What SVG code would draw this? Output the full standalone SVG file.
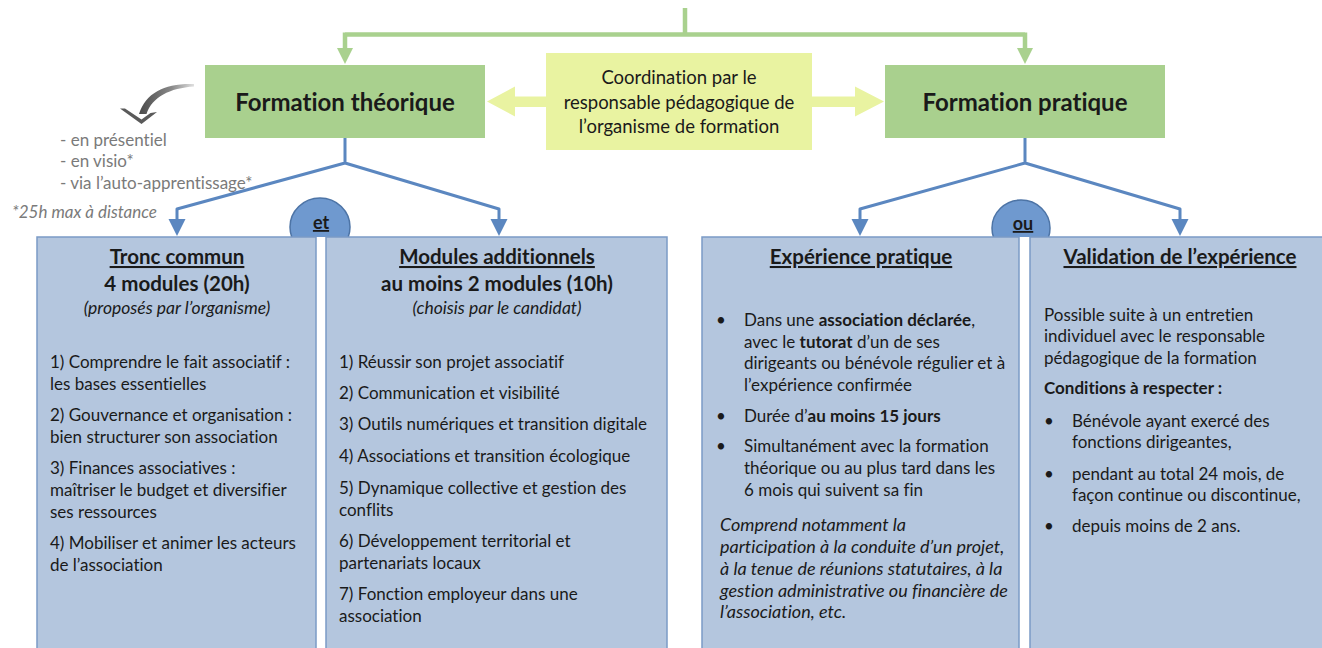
<svg xmlns="http://www.w3.org/2000/svg" width="1322" height="648" viewBox="0 0 1322 648">
<style>
text{font-family:Lato,"Open Sans","Liberation Sans",sans-serif;fill:#1a1a1a;font-variant-ligatures:no-common-ligatures}
.top{fill:#a9d08e}
.coord{fill:#e9f3a1}
.gline{fill:none;stroke:#a9d18e;stroke-width:4.5}
.ghead{fill:#a9d18e}
.bline{fill:none;stroke:#5b87c0;stroke-width:3;stroke-linejoin:round}
.bhead{fill:#5b87c0}
.panel{fill:#b4c6de;stroke:#7b9bc6;stroke-width:1.5}
.circ{fill:#6f99cf;stroke:#4d74a6;stroke-width:1.5}
.title{font-size:24px;font-weight:bold;text-anchor:middle}
.ct{font-size:18.5px;text-anchor:middle}
.hd{font-size:20.5px;font-weight:bold;text-anchor:middle}
.hu{text-decoration:underline}
.sub{font-size:17.5px;font-style:italic;text-anchor:middle}
.bd{font-size:17px}
.it{font-size:18px;font-style:italic}
.note{font-size:17px;fill:#7a7a7a}
.b{font-weight:bold}
.cl{font-size:18px;font-weight:bold;text-anchor:middle;text-decoration:underline}
</style>
<defs>
<clipPath id="abovebox"><rect x="0" y="0" width="1322" height="237"/></clipPath>
<linearGradient id="gg" x1="0" y1="0" x2="1" y2="0">
<stop offset="0" stop-color="#4a4a4a"/>
<stop offset="0.6" stop-color="#8a8a8a"/>
<stop offset="1" stop-color="#e0e0e0"/>
</linearGradient>
</defs>

<g id="connectors">
<path class="gline" d="M685,8 V34.5 M345,34.5 H1025 M345,32.5 V50 M1025,32.5 V50"/>
<polygon class="ghead" points="337,48 353,48 345,64"/>
<polygon class="ghead" points="1017,48 1033,48 1025,64"/>
<polygon class="coord" points="546,96.5 515,96.5 515,86.5 487,101.5 515,116.5 515,107 546,107"/>
<polygon class="coord" points="812,96.5 855,96.5 855,86.5 884,101.5 855,116.5 855,107 812,107"/>
<path class="bline" d="M345,138 V163 L177,209 V221 M345,163 L499,209 V221"/>
<path class="bline" d="M1025,138 V163 L860,209 V221 M1025,163 L1180,209 V221"/>
<polygon class="bhead" points="168.5,219 185.5,219 177,236"/>
<polygon class="bhead" points="490.5,219 507.5,219 499,236"/>
<polygon class="bhead" points="851.5,219 868.5,219 860,236"/>
<polygon class="bhead" points="1171.5,219 1188.5,219 1180,236"/>
<path d="M194,84 C166,83 146,92 139,114 L146.5,114 C152,97 170,88 194,86.5 Z" fill="url(#gg)"/>
<path d="M120,108.5 L141.5,124 L157,112 L150.5,113 L141.5,119.5 L125,108.5 Z" fill="#5a5a5a"/>
</g>

<g id="formation-theorique">
<rect class="top" x="205" y="65" width="280" height="73"/>
<text class="title" x="345" y="111">Formation théorique</text>
</g>

<g id="coordination">
<rect class="coord" x="546" y="53" width="266" height="97"/>
<text class="ct" x="679" y="84">Coordination par le</text>
<text class="ct" x="679" y="109">responsable pédagogique de</text>
<text class="ct" x="679" y="133">l’organisme de formation</text>
</g>

<g id="formation-pratique">
<rect class="top" x="885" y="65" width="280" height="73"/>
<text class="title" x="1025" y="111">Formation pratique</text>
</g>

<g id="modalites">
<text class="note" x="60" y="146">- en présentiel</text>
<text class="note" x="60" y="167">- en visio*</text>
<text class="note" x="60" y="189">- via l’auto-apprentissage*</text>
<text class="note" x="12" y="218" font-style="italic">*25h max à distance</text>
</g>

<g id="et">
<ellipse class="circ" cx="320" cy="227" rx="30" ry="29" clip-path="url(#abovebox)"/>
<text class="cl" x="321" y="229">et</text>
</g>

<g id="ou">
<ellipse class="circ" cx="1021" cy="228" rx="29" ry="28" clip-path="url(#abovebox)"/>
<text class="cl" x="1023" y="230">ou</text>
</g>

<g id="tronc-commun">
<rect class="panel" x="37" y="237" width="279" height="430"/>
<text class="hd hu" x="177" y="264">Tronc commun</text>
<text class="hd" x="177" y="291">4 modules (20h)</text>
<text class="sub" x="177" y="314">(proposés par l’organisme)</text>
<text class="bd" x="50" y="368">1) Comprendre le fait associatif :</text>
<text class="bd" x="50" y="390">les bases essentielles</text>
<text class="bd" x="50" y="421">2) Gouvernance et organisation :</text>
<text class="bd" x="50" y="443">bien structurer son association</text>
<text class="bd" x="50" y="474">3) Finances associatives :</text>
<text class="bd" x="50" y="496">maîtriser le budget et diversifier</text>
<text class="bd" x="50" y="518">ses ressources</text>
<text class="bd" x="50" y="549">4) Mobiliser et animer les acteurs</text>
<text class="bd" x="50" y="571">de l’association</text>
</g>

<g id="modules-additionnels">
<rect class="panel" x="326" y="237" width="341" height="430"/>
<text class="hd hu" x="497" y="264">Modules additionnels</text>
<text class="hd" x="497" y="291">au moins 2 modules (10h)</text>
<text class="sub" x="497" y="314">(choisis par le candidat)</text>
<text class="bd" x="339" y="368">1) Réussir son projet associatif</text>
<text class="bd" x="339" y="399">2) Communication et visibilité</text>
<text class="bd" x="339" y="430">3) Outils numériques et transition digitale</text>
<text class="bd" x="339" y="462">4) Associations et transition écologique</text>
<text class="bd" x="339" y="494">5) Dynamique collective et gestion des</text>
<text class="bd" x="339" y="516">conflits</text>
<text class="bd" x="339" y="547">6) Développement territorial et</text>
<text class="bd" x="339" y="569">partenariats locaux</text>
<text class="bd" x="339" y="600">7) Fonction employeur dans une</text>
<text class="bd" x="339" y="622">association</text>
</g>

<g id="experience-pratique">
<rect class="panel" x="702" y="237" width="317" height="430"/>
<text class="hd hu" x="861" y="264">Expérience pratique</text>
<text class="bd" x="716" y="326">•</text>
<text class="bd" x="744" y="326">Dans une <tspan class="b">association déclarée</tspan>,</text>
<text class="bd" x="744" y="348">avec le <tspan class="b">tutorat</tspan> d’un de ses</text>
<text class="bd" x="744" y="369">dirigeants ou bénévole régulier et à</text>
<text class="bd" x="744" y="391">l’expérience confirmée</text>
<text class="bd" x="716" y="422">•</text>
<text class="bd" x="744" y="422">Durée d’<tspan class="b">au moins 15 jours</tspan></text>
<text class="bd" x="716" y="452">•</text>
<text class="bd" x="744" y="452">Simultanément avec la formation</text>
<text class="bd" x="744" y="474">théorique ou au plus tard dans les</text>
<text class="bd" x="744" y="496">6 mois qui suivent sa fin</text>
<text class="it" x="720" y="531">Comprend notamment la</text>
<text class="it" x="720" y="553">participation à la conduite d’un projet,</text>
<text class="it" x="720" y="575">à la tenue de réunions statutaires, à la</text>
<text class="it" x="720" y="597">gestion administrative ou financière de</text>
<text class="it" x="720" y="618">l’association, etc.</text>
</g>

<g id="validation-experience">
<rect class="panel" x="1030" y="237" width="300" height="430"/>
<text class="hd hu" x="1180" y="264">Validation de l’expérience</text>
<text class="bd" x="1044" y="321">Possible suite à un entretien</text>
<text class="bd" x="1044" y="342">individuel avec le responsable</text>
<text class="bd" x="1044" y="364">pédagogique de la formation</text>
<text class="bd b" x="1044" y="394">Conditions à respecter :</text>
<text class="bd" x="1044" y="427">•</text>
<text class="bd" x="1072" y="427">Bénévole ayant exercé des</text>
<text class="bd" x="1072" y="448">fonctions dirigeantes,</text>
<text class="bd" x="1044" y="480">•</text>
<text class="bd" x="1072" y="480">pendant au total 24 mois, de</text>
<text class="bd" x="1072" y="501">façon continue ou discontinue,</text>
<text class="bd" x="1044" y="532">•</text>
<text class="bd" x="1072" y="532">depuis moins de 2 ans.</text>
</g>
</svg>
